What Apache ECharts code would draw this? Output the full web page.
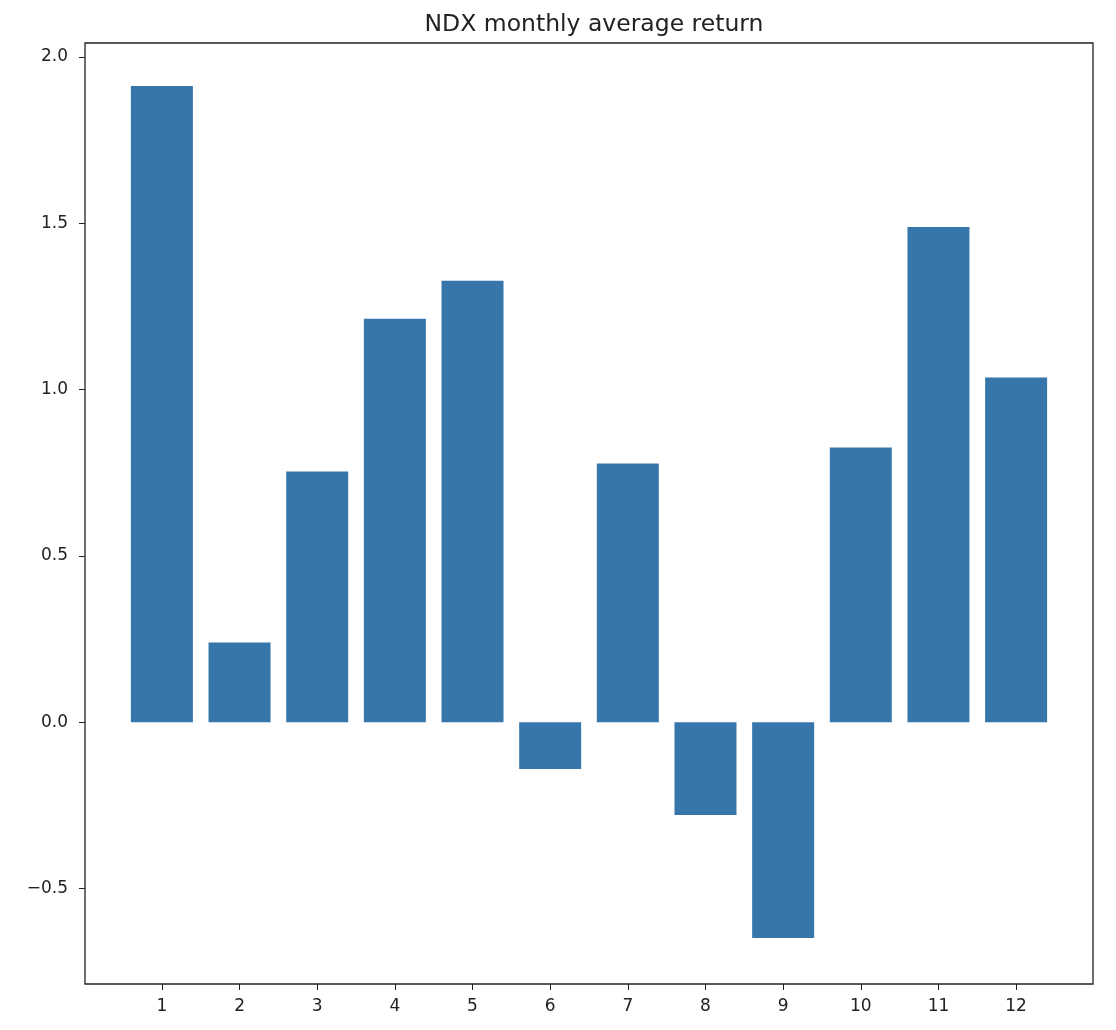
<!DOCTYPE html>
<html>
<head>
<meta charset="utf-8">
<script src="https://cdn.jsdelivr.net/npm/echarts@6/dist/echarts.min.js"></script>
<style>
  html, body { margin: 0; padding: 0; background: #fff; }
  #chart { width: 1116px; height: 1030px; }
</style>
</head>
<body>
<div id="chart"></div>
<script>
var months = [1, 2, 3, 4, 5, 6, 7, 8, 9, 10, 11, 12];
var avgReturn = [1.913, 0.240, 0.754, 1.213, 1.327, -0.141, 0.778, -0.279, -0.649, 0.826, 1.489, 1.036];
var yTicks = [-0.5, 0.0, 0.5, 1.0, 1.5, 2.0];

var chart = echarts.init(document.getElementById('chart'));
var axisFont = { fontFamily: 'DejaVu Sans', fontSize: 17, color: '#222' };

chart.setOption({
    animation: false,
    title: {
        text: 'NDX monthly average return',
        left: 589,
        textAlign: 'center',
        top: 8,
        textStyle: { fontFamily: 'DejaVu Sans', fontSize: 23.5, fontWeight: 'normal', color: '#222' }
    },
    grid: {
        left: 85, top: 43, width: 1008, height: 941,
        show: true, borderColor: '#222', borderWidth: 1.3, backgroundColor: '#fff'
    },
    xAxis: {
        type: 'value',
        min: 0.01, max: 12.99,
        axisLine: { show: false, onZero: false },
        splitLine: { show: false },
        axisTick: { show: true, length: 6, lineStyle: { color: '#222' }, customValues: months },
        axisLabel: Object.assign({ customValues: months, margin: 14 }, axisFont)
    },
    yAxis: {
        type: 'value',
        min: -0.787, max: 2.042,
        axisLine: { show: false, onZero: false },
        splitLine: { show: false },
        axisTick: { show: true, length: 6, lineStyle: { color: '#222' }, customValues: yTicks },
        axisLabel: Object.assign({
            customValues: yTicks, margin: 17,
            formatter: function (v) { return v.toFixed(1).replace('-', '\u2212'); }
        }, axisFont)
    },
    series: [{
        type: 'bar',
        barWidth: 62,
        itemStyle: { color: '#3776ab' },
        data: months.map(function (m, i) { return [m, avgReturn[i]]; })
    }]
});
</script>
</body>
</html>
